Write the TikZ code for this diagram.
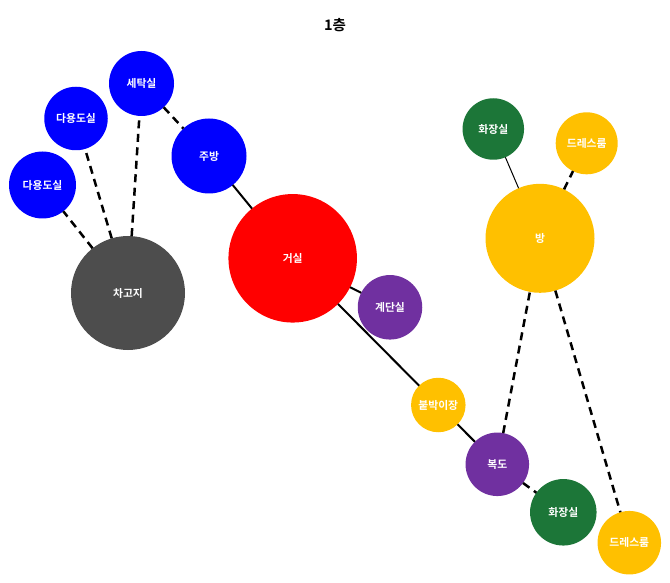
\documentclass[tikz,border=0pt]{standalone}
\usepackage{fontspec}
\newfontfamily\krfont{Noto Sans CJK KR}[BoldFont={* Bold}]
\begin{document}
\begin{tikzpicture}[x=1pt,y=-1pt,
  room/.style={circle,inner sep=0pt,outer sep=0pt,minimum size=#1,
    text=white,font=\krfont\bfseries\fontsize{10.8}{12}\selectfont},
  solidlink/.style={line width=2pt,black},
  thinlink/.style={line width=1pt,black},
  dashlink/.style={line width=2.5pt,black,dash pattern=on 8pt off 5.5pt}]
\useasboundingbox (0,0) rectangle (670,583);
\definecolor{cblue}{RGB}{0,0,255}
\definecolor{cred}{RGB}{255,0,0}
\definecolor{cgray}{RGB}{77,77,77}
\definecolor{cpurple}{RGB}{112,48,160}
\definecolor{cgold}{RGB}{255,192,0}
\definecolor{cgreen}{RGB}{28,118,56}

\node[font=\krfont\bfseries\fontsize{14.5}{16}\selectfont] (title) at (335,25) {1층};

% rooms
\node[room=65pt,fill=cblue] (laundry) at (141.5,83.5) {세탁실};
\node[room=63.5pt,fill=cblue] (utilA) at (76,118.5) {다용도실};
\node[room=67pt,fill=cblue] (utilB) at (42.5,185) {다용도실};
\node[room=75pt,fill=cblue] (kitchen) at (209,156) {주방};
\node[room=114pt,fill=cgray] (garage) at (128,293) {차고지};
\node[room=128.5pt,fill=cred] (living) at (292.7,258.3) {거실};
\node[room=64.5pt,fill=cpurple] (stairs) at (390,307.3) {계단실};
\node[room=61.5pt,fill=cgreen] (bathA) at (493.3,129) {화장실};
\node[room=62pt,fill=cgold] (dressA) at (586.7,143.3) {드레스룸};
\node[room=109pt,fill=cgold] (room) at (540,238.3) {방};
\node[room=54.5pt,fill=cgold] (closet) at (438.3,405) {붙박이장};
\node[room=63.5pt,fill=cpurple] (hall) at (497.3,464.3) {복도};
\node[room=66.5pt,fill=cgreen] (bathB) at (563.3,512.3) {화장실};
\node[room=63.5pt,fill=cgold] (dressB) at (629.3,542.7) {드레스룸};

% connections
\draw[dashlink] (laundry) -- (kitchen);
\draw[solidlink] (kitchen) -- (living);
\draw[solidlink] (living) -- (stairs);
\draw[solidlink] (living) -- (closet);
\draw[solidlink] (closet) -- (hall);
\draw[dashlink] (hall) -- (bathB);
\draw[dashlink] (hall) -- (room);
\draw[dashlink] (room) -- (dressB);
\draw[thinlink] (room) -- (bathA);
\draw[dashlink] (room) -- (dressA);
\draw[dashlink] (garage) -- (utilB);
\draw[dashlink] (garage) -- (utilA);
\draw[dashlink] (garage) -- (laundry);
\end{tikzpicture}
\end{document}
